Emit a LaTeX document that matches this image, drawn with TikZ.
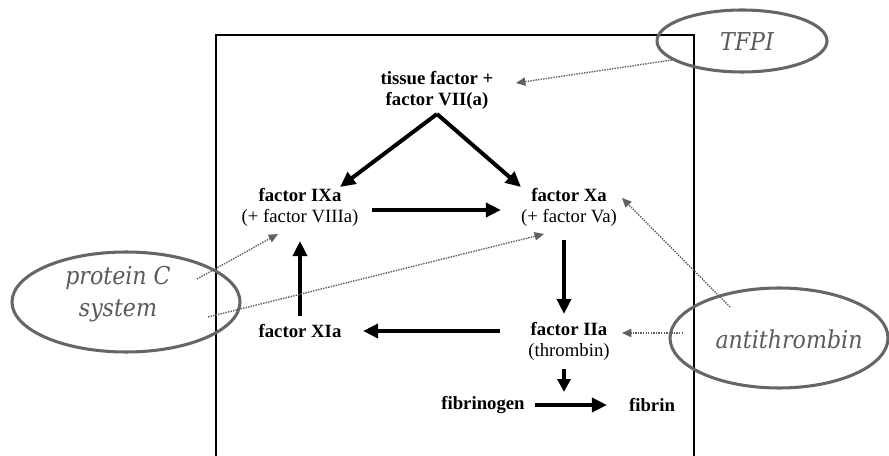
\documentclass[tikz,border=0pt]{standalone}
\usepackage{fontspec}
\setmainfont{Liberation Serif}
\newfontfamily\labfont{DejaVu Serif Condensed}
\usetikzlibrary{arrows.meta}
\definecolor{ovalgray}{HTML}{666666}
\definecolor{labgray}{HTML}{5A5A5A}
\definecolor{dotgray}{HTML}{606060}
\tikzset{
  fac/.style={font=\fontsize{16}{18}\selectfont, align=center, inner sep=0pt, text=black},
  lab/.style={font=\labfont\fontsize{21}{27}\selectfont\itshape, align=center, inner sep=0pt, text=labgray},
  oval/.style={draw=ovalgray, line width=2.6pt},
  big/.style={line width=3.4pt, -{Triangle[length=13pt,width=12pt]}},
  small/.style={line width=3.2pt, -{Triangle[length=11pt,width=11pt]}},
  inhib/.style={draw=dotgray, line width=1.2pt, densely dotted, -{Triangle[length=8pt,width=7pt,fill=dotgray]}}
}
\begin{document}
\begin{tikzpicture}[x=0.03cm,y=-0.03cm]
\useasboundingbox[fill=white] (0,0) rectangle (889,456);
% frame open at the bottom
\draw[line width=1pt] (216,470) -- (216,35) -- (694,35) -- (694,470);

% factor nodes
\node[fac] (tf)  at (437,90.5) {\textbf{tissue factor +}\\\textbf{factor VII(a)}};
\node[fac] (ix)  at (300,207.5) {\textbf{factor IXa}\\(+ factor VIIIa)};
\node[fac] (xa)  at (569,207.5) {\textbf{factor Xa}\\(+ factor Va)};
\node[fac] (xi)  at (300,331) {\textbf{factor XIa}};
\node[fac] (iia) at (569,341.5) {\textbf{factor IIa}\\(thrombin)};
\node[fac] (fg)  at (483,405) {\textbf{fibrinogen}};
\node[fac] (fb)  at (652,405) {\textbf{fibrin}};

% inhibitor ovals
\draw[oval] (742,41) ellipse [x radius=85, y radius=31];
\node[lab] (tfpi) at (747,42) {TFPI};
\draw[oval] (126,302) ellipse [x radius=114, y radius=50];
\node[lab] (pc) at (118,294) {protein C\\system};
\draw[oval] (779,338) ellipse [x radius=109, y radius=50];
\node[lab] (at) at (789,339) {antithrombin};

% connector end points
\coordinate (tfA) at (437,114);
\coordinate (ixN) at (340,187);
\coordinate (xaN) at (521,187);
\coordinate (ixE) at (372,210);
\coordinate (xaW) at (501,210);
\coordinate (xaS) at (564,240);
\coordinate (iiaN) at (564,314);
\coordinate (iiaW) at (500,331);
\coordinate (xiE) at (363,331);
\coordinate (xiN) at (300,316);
\coordinate (ixS) at (300,241);
\coordinate (thS) at (564,369);
\coordinate (thE) at (564,392);
\coordinate (fgE) at (535,405);
\coordinate (fbW) at (607,405);

\draw[big] (tfA) -- (ixN);
\draw[big] (tfA) -- (xaN);
\draw[big] (ixE) -- (xaW);
\draw[big] (xaS) -- (iiaN);
\draw[big] (iiaW) -- (xiE);
\draw[big] (xiN) -- (ixS);
\draw[small] (thS) -- (thE);
\draw[big] (fgE) -- (fbW);

% inhibitor connectors
\coordinate (tfpiS) at (672,60);
\coordinate (tfR) at (516,83);
\coordinate (pc1) at (197,279);
\coordinate (ixT) at (278,234);
\coordinate (pc2) at (208,317);
\coordinate (xaT) at (544,234);
\coordinate (at1) at (730,307);
\coordinate (xaR) at (622,198);
\coordinate (at2) at (683,333);
\coordinate (iiaR) at (622,333);

\draw[inhib] (tfpiS) -- (tfR);
\draw[inhib] (pc1) -- (ixT);
\draw[inhib] (pc2) -- (xaT);
\draw[inhib] (at1) -- (xaR);
\draw[inhib] (at2) -- (iiaR);
\end{tikzpicture}
\end{document}
